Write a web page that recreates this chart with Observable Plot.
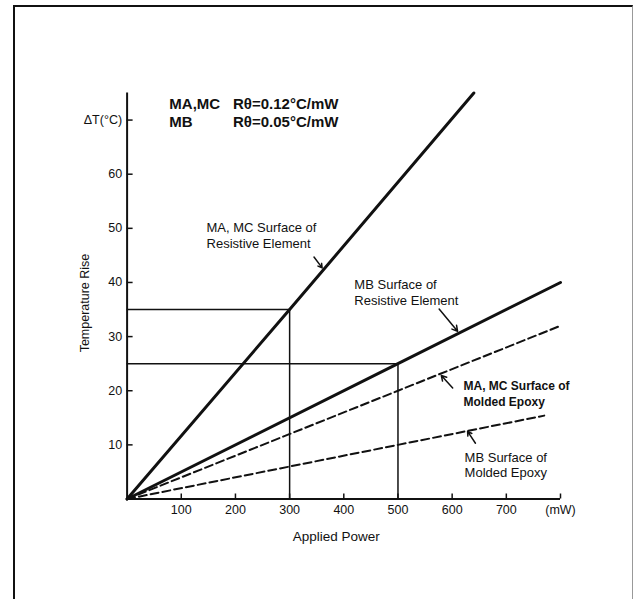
<!DOCTYPE html>
<html>
<head>
<meta charset="utf-8">
<script src="https://cdn.jsdelivr.net/npm/d3@7"></script>
<script src="https://cdn.jsdelivr.net/npm/@observablehq/plot@0.6"></script>
<style>
  html, body { margin: 0; padding: 0; background: #fff; }
  #wrap { position: relative; width: 634px; height: 599px; overflow: hidden; }
  #box { position: absolute; left: 13px; top: 5px; width: 617px; height: 620px;
         border-left: 2px solid #111; border-top: 2px solid #111; border-right: 1px solid #999; }
  #chart { position: absolute; left: 0; top: 0; }
</style>
</head>
<body>
<div id="wrap"><div id="box"></div><div id="chart"></div></div>
<script>
// Series (Applied Power in mW, Temperature Rise in °C)
const maResPower = [0, 300, 640];
const maResTemp  = [0, 35, 75];
const mbResPower = [0, 500, 800];
const mbResTemp  = [0, 25, 40];
const maEpoxyPower = [0, 500, 800];
const maEpoxyTemp  = [0, 20, 32];
const mbEpoxyPower = [0, 500, 770];
const mbEpoxyTemp  = [0, 10, 15.4];

// Read-off guide points
const guidePower = [300, 500];
const guideTemp  = [35, 25];

// Axis ticks
const xTicks = [100, 200, 300, 400, 500, 600, 700, 800];
const xTickLabels = ["100", "200", "300", "400", "500", "600", "700", "(mW)"];
const yTicks = [10, 20, 30, 40, 50, 60, 70];
const yTickLabels = ["10", "20", "30", "40", "50", "60", "ΔT(°C)"];

// Axis titles
const xTitle = "Applied Power";
const yTitle = "Temperature Rise";

// Header text
const headerNames = ["MA,MC", "MB"];
const headerValues = ["Rθ=0.12°C/mW", "Rθ=0.05°C/mW"];
const headerTemp = [73.0, 69.6];
const headerNamePower = 78;
const headerValuePower = 195.5;

// Annotations (anchored in data units)
const noteText = ["MA, MC Surface of\nResistive Element", "MB Surface of\nResistive Element",
                  "MA, MC Surface of\nMolded Epoxy", "MB Surface of\nMolded Epoxy"];
const notePower = [146.6, 419.5, 621, 623];
const noteTemp = [51.4, 40.9, 22.1, 9.0];
const noteBold = [false, false, true, false];
const arrowFromPower = [345, 576, 601, 643];
const arrowFromTemp  = [44.7, 35.1, 20.5, 10.3];
const arrowToPower   = [360, 610, 580, 628.5];
const arrowToTemp    = [42.7, 31.0, 22.8, 12.5];

const toPts = (xs, ys) => xs.map((x, i) => ({x, y: ys[i]}));
const idx = (a) => a.map((_, i) => i);

const W = 634, H = 599, mL = 126.6, mR = 74, mT = 92.5, mB = 100.5;
const plotW = W - mL - mR, plotH = H - mT - mB;

const chart = Plot.plot({
  width: W, height: H,
  marginLeft: mL, marginRight: mR, marginTop: mT, marginBottom: mB,
  x: {domain: [0, 800], axis: null},
  y: {domain: [0, 75], axis: null},
  style: {fontFamily: "'Liberation Sans', Arial, sans-serif", background: "transparent", color: "#111"},
  marks: [
    // guide lines
    Plot.ruleY(idx(guidePower), {y: i => guideTemp[i], x1: 0, x2: i => guidePower[i], stroke: "#111", strokeWidth: 1.5}),
    Plot.ruleX(idx(guidePower), {x: i => guidePower[i], y1: 0, y2: i => guideTemp[i], stroke: "#111", strokeWidth: 1.5}),
    // axes lines
    Plot.ruleX([0], {stroke: "#111", strokeWidth: 2}),
    Plot.ruleY([0], {stroke: "#111", strokeWidth: 2}),
    // ticks (pointing inward)
    Plot.ruleY(yTicks, {y: d => d, insetRight: plotW - 6, stroke: "#111", strokeWidth: 1.5}),
    Plot.ruleX(xTicks, {x: d => d, insetTop: plotH - 5, stroke: "#111", strokeWidth: 1.5}),
    Plot.axisX({ticks: xTicks, tickSize: 0, tickPadding: 6, tickFormat: (d) => xTickLabels[xTicks.indexOf(d)], fontSize: 12.5, label: null}),
    Plot.axisY({ticks: yTicks, tickSize: 0, tickPadding: 5, tickFormat: (d) => yTickLabels[yTicks.indexOf(d)], fontSize: 12.5, label: null}),
    // series
    Plot.line(toPts(maEpoxyPower, maEpoxyTemp), {x: "x", y: "y", stroke: "#111", strokeWidth: 2, strokeDasharray: "8,4"}),
    Plot.line(toPts(mbEpoxyPower, mbEpoxyTemp), {x: "x", y: "y", stroke: "#111", strokeWidth: 2, strokeDasharray: "8,4"}),
    Plot.line(toPts(maResPower, maResTemp), {x: "x", y: "y", stroke: "#111", strokeWidth: 3}),
    Plot.line(toPts(mbResPower, mbResTemp), {x: "x", y: "y", stroke: "#111", strokeWidth: 3}),
    // header
    Plot.text(idx(headerNames), {x: () => headerNamePower, y: i => headerTemp[i], text: i => headerNames[i], textAnchor: "start", fontSize: 15, fontWeight: "bold", fill: "#111"}),
    Plot.text(idx(headerValues), {x: () => headerValuePower, y: i => headerTemp[i], text: i => headerValues[i], textAnchor: "start", fontSize: 15, fontWeight: "bold", fill: "#111"}),
    // annotations
    Plot.text(idx(noteText).filter(i => !noteBold[i]), {x: i => notePower[i], y: i => noteTemp[i], text: i => noteText[i], textAnchor: "start", lineAnchor: "top", lineHeight: 1.22, fontSize: 13, fill: "#111"}),
    Plot.text(idx(noteText).filter(i => noteBold[i]), {x: i => notePower[i], y: i => noteTemp[i], text: i => noteText[i], textAnchor: "start", lineAnchor: "top", lineHeight: 1.3, fontSize: 12, fontWeight: "bold", fill: "#111"}),
    Plot.arrow(idx(arrowFromPower), {x1: i => arrowFromPower[i], y1: i => arrowFromTemp[i], x2: i => arrowToPower[i], y2: i => arrowToTemp[i], stroke: "#111", strokeWidth: 1.5, headLength: 6}),
    // axis titles
    Plot.text([yTitle], {x: () => -76.8, y: () => 36.2, text: d => d, rotate: -90, fontSize: 12.5, fill: "#111", clip: false}),
    Plot.text([xTitle], {x: () => 386, y: () => -7, text: d => d, fontSize: 13.5, fill: "#111", clip: false})
  ]
});
document.getElementById("chart").appendChild(chart);
</script>
</body>
</html>
